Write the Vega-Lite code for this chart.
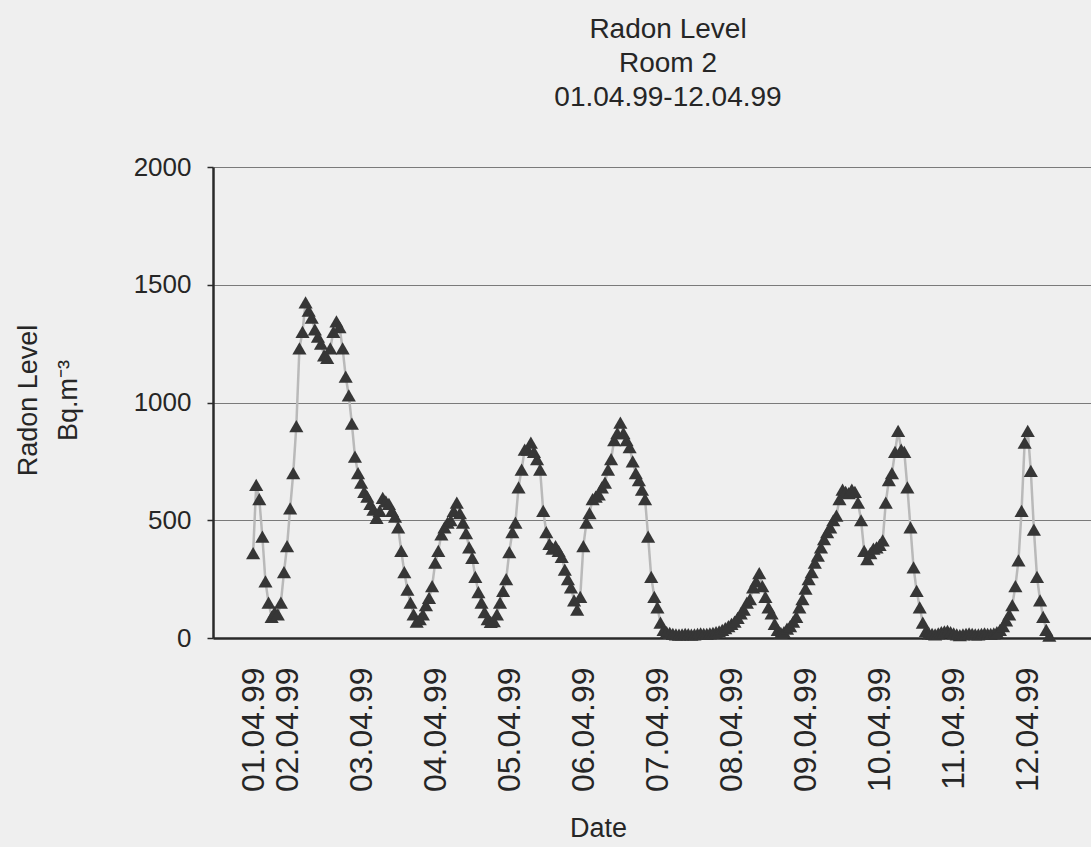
{
  "$schema": "https://vega.github.io/schema/vega-lite/v6.json",
  "autosize": {"type": "none"},
  "padding": {"left": 213, "top": 167, "right": 0, "bottom": 209},
  "width": 878,
  "height": 471,
  "background": "#efefef",
  "title": {
    "text": ["Radon Level", "Room 2", "01.04.99-12.04.99"],
    "font": "Liberation Sans",
    "fontSize": 28,
    "fontWeight": "normal",
    "lineHeight": 34,
    "color": "#262626",
    "anchor": "middle",
    "dx": 16,
    "offset": 42
  },
  "config": {
    "view": {"stroke": null, "fill": "#efefef"},
    "axis": {"labelFont": "Liberation Sans", "titleFont": "Liberation Sans", "labelColor": "#262626", "titleColor": "#262626", "titleFontWeight": "normal"}
  },
  "data": {
    "values": [
      {"t":"1999-04-01T13:00","v":360},{"t":"1999-04-01T14:00","v":650},{"t":"1999-04-01T15:00","v":590},{"t":"1999-04-01T16:00","v":430},{"t":"1999-04-01T17:00","v":240},{"t":"1999-04-01T18:00","v":150},{"t":"1999-04-01T19:00","v":90},{"t":"1999-04-01T20:00","v":110},{"t":"1999-04-01T21:00","v":100},{"t":"1999-04-01T22:00","v":150},{"t":"1999-04-01T23:00","v":280},
      {"t":"1999-04-02T00:00","v":390},{"t":"1999-04-02T01:00","v":550},{"t":"1999-04-02T02:00","v":700},{"t":"1999-04-02T03:00","v":900},{"t":"1999-04-02T04:00","v":1230},{"t":"1999-04-02T05:00","v":1300},{"t":"1999-04-02T06:00","v":1425},{"t":"1999-04-02T07:00","v":1390},{"t":"1999-04-02T08:00","v":1360},{"t":"1999-04-02T09:00","v":1310},{"t":"1999-04-02T10:00","v":1280},{"t":"1999-04-02T11:00","v":1250},{"t":"1999-04-02T12:00","v":1200},{"t":"1999-04-02T13:00","v":1190},{"t":"1999-04-02T14:00","v":1230},{"t":"1999-04-02T15:00","v":1300},{"t":"1999-04-02T16:00","v":1345},{"t":"1999-04-02T17:00","v":1320},{"t":"1999-04-02T18:00","v":1230},{"t":"1999-04-02T19:00","v":1110},{"t":"1999-04-02T20:00","v":1030},{"t":"1999-04-02T21:00","v":910},{"t":"1999-04-02T22:00","v":770},{"t":"1999-04-02T23:00","v":700},
      {"t":"1999-04-03T00:00","v":660},{"t":"1999-04-03T01:00","v":620},{"t":"1999-04-03T02:00","v":600},{"t":"1999-04-03T03:00","v":570},{"t":"1999-04-03T04:00","v":545},{"t":"1999-04-03T05:00","v":510},{"t":"1999-04-03T06:00","v":540},{"t":"1999-04-03T07:00","v":595},{"t":"1999-04-03T08:00","v":580},{"t":"1999-04-03T09:00","v":570},{"t":"1999-04-03T10:00","v":540},{"t":"1999-04-03T11:00","v":515},{"t":"1999-04-03T12:00","v":470},{"t":"1999-04-03T13:00","v":370},{"t":"1999-04-03T14:00","v":280},{"t":"1999-04-03T15:00","v":205},{"t":"1999-04-03T16:00","v":150},{"t":"1999-04-03T17:00","v":100},{"t":"1999-04-03T18:00","v":70},{"t":"1999-04-03T19:00","v":80},{"t":"1999-04-03T20:00","v":100},{"t":"1999-04-03T21:00","v":140},{"t":"1999-04-03T22:00","v":170},{"t":"1999-04-03T23:00","v":220},
      {"t":"1999-04-04T00:00","v":320},{"t":"1999-04-04T01:00","v":370},{"t":"1999-04-04T02:00","v":440},{"t":"1999-04-04T03:00","v":470},{"t":"1999-04-04T04:00","v":490},{"t":"1999-04-04T05:00","v":500},{"t":"1999-04-04T06:00","v":540},{"t":"1999-04-04T07:00","v":575},{"t":"1999-04-04T08:00","v":530},{"t":"1999-04-04T09:00","v":490},{"t":"1999-04-04T10:00","v":445},{"t":"1999-04-04T11:00","v":385},{"t":"1999-04-04T12:00","v":340},{"t":"1999-04-04T13:00","v":260},{"t":"1999-04-04T14:00","v":195},{"t":"1999-04-04T15:00","v":150},{"t":"1999-04-04T16:00","v":110},{"t":"1999-04-04T17:00","v":80},{"t":"1999-04-04T18:00","v":68},{"t":"1999-04-04T19:00","v":72},{"t":"1999-04-04T20:00","v":100},{"t":"1999-04-04T21:00","v":150},{"t":"1999-04-04T22:00","v":200},{"t":"1999-04-04T23:00","v":250},
      {"t":"1999-04-05T00:00","v":365},{"t":"1999-04-05T01:00","v":450},{"t":"1999-04-05T02:00","v":490},{"t":"1999-04-05T03:00","v":640},{"t":"1999-04-05T04:00","v":715},{"t":"1999-04-05T05:00","v":800},{"t":"1999-04-05T06:00","v":800},{"t":"1999-04-05T07:00","v":830},{"t":"1999-04-05T08:00","v":790},{"t":"1999-04-05T09:00","v":760},{"t":"1999-04-05T10:00","v":715},{"t":"1999-04-05T11:00","v":540},{"t":"1999-04-05T12:00","v":450},{"t":"1999-04-05T13:00","v":400},{"t":"1999-04-05T14:00","v":380},{"t":"1999-04-05T15:00","v":390},{"t":"1999-04-05T16:00","v":370},{"t":"1999-04-05T17:00","v":345},{"t":"1999-04-05T18:00","v":290},{"t":"1999-04-05T19:00","v":250},{"t":"1999-04-05T20:00","v":215},{"t":"1999-04-05T21:00","v":160},{"t":"1999-04-05T22:00","v":120},{"t":"1999-04-05T23:00","v":175},
      {"t":"1999-04-06T00:00","v":390},{"t":"1999-04-06T01:00","v":490},{"t":"1999-04-06T02:00","v":530},{"t":"1999-04-06T03:00","v":590},{"t":"1999-04-06T04:00","v":600},{"t":"1999-04-06T05:00","v":610},{"t":"1999-04-06T06:00","v":640},{"t":"1999-04-06T07:00","v":660},{"t":"1999-04-06T08:00","v":715},{"t":"1999-04-06T09:00","v":760},{"t":"1999-04-06T10:00","v":840},{"t":"1999-04-06T11:00","v":870},{"t":"1999-04-06T12:00","v":915},{"t":"1999-04-06T13:00","v":870},{"t":"1999-04-06T14:00","v":840},{"t":"1999-04-06T15:00","v":810},{"t":"1999-04-06T16:00","v":750},{"t":"1999-04-06T17:00","v":700},{"t":"1999-04-06T18:00","v":670},{"t":"1999-04-06T19:00","v":630},{"t":"1999-04-06T20:00","v":590},{"t":"1999-04-06T21:00","v":430},{"t":"1999-04-06T22:00","v":260},{"t":"1999-04-06T23:00","v":175},
      {"t":"1999-04-07T00:00","v":130},{"t":"1999-04-07T01:00","v":65},{"t":"1999-04-07T02:00","v":35},{"t":"1999-04-07T03:00","v":25},{"t":"1999-04-07T04:00","v":22},{"t":"1999-04-07T05:00","v":18},{"t":"1999-04-07T06:00","v":15},{"t":"1999-04-07T07:00","v":14},{"t":"1999-04-07T08:00","v":15},{"t":"1999-04-07T09:00","v":17},{"t":"1999-04-07T10:00","v":16},{"t":"1999-04-07T11:00","v":14},{"t":"1999-04-07T12:00","v":15},{"t":"1999-04-07T13:00","v":18},{"t":"1999-04-07T14:00","v":20},{"t":"1999-04-07T15:00","v":18},{"t":"1999-04-07T16:00","v":17},{"t":"1999-04-07T17:00","v":20},{"t":"1999-04-07T18:00","v":22},{"t":"1999-04-07T19:00","v":25},{"t":"1999-04-07T20:00","v":28},{"t":"1999-04-07T21:00","v":35},{"t":"1999-04-07T22:00","v":42},{"t":"1999-04-07T23:00","v":50},
      {"t":"1999-04-08T00:00","v":60},{"t":"1999-04-08T01:00","v":70},{"t":"1999-04-08T02:00","v":85},{"t":"1999-04-08T03:00","v":105},{"t":"1999-04-08T04:00","v":120},{"t":"1999-04-08T05:00","v":150},{"t":"1999-04-08T06:00","v":165},{"t":"1999-04-08T07:00","v":215},{"t":"1999-04-08T08:00","v":240},{"t":"1999-04-08T09:00","v":275},{"t":"1999-04-08T10:00","v":220},{"t":"1999-04-08T11:00","v":175},{"t":"1999-04-08T12:00","v":130},{"t":"1999-04-08T13:00","v":105},{"t":"1999-04-08T14:00","v":60},{"t":"1999-04-08T15:00","v":35},{"t":"1999-04-08T16:00","v":22},{"t":"1999-04-08T17:00","v":25},{"t":"1999-04-08T18:00","v":40},{"t":"1999-04-08T19:00","v":50},{"t":"1999-04-08T20:00","v":70},{"t":"1999-04-08T21:00","v":90},{"t":"1999-04-08T22:00","v":130},{"t":"1999-04-08T23:00","v":165},
      {"t":"1999-04-09T00:00","v":210},{"t":"1999-04-09T01:00","v":250},{"t":"1999-04-09T02:00","v":280},{"t":"1999-04-09T03:00","v":320},{"t":"1999-04-09T04:00","v":350},{"t":"1999-04-09T05:00","v":385},{"t":"1999-04-09T06:00","v":420},{"t":"1999-04-09T07:00","v":450},{"t":"1999-04-09T08:00","v":470},{"t":"1999-04-09T09:00","v":500},{"t":"1999-04-09T10:00","v":520},{"t":"1999-04-09T11:00","v":590},{"t":"1999-04-09T12:00","v":630},{"t":"1999-04-09T13:00","v":620},{"t":"1999-04-09T14:00","v":615},{"t":"1999-04-09T15:00","v":630},{"t":"1999-04-09T16:00","v":620},{"t":"1999-04-09T17:00","v":575},{"t":"1999-04-09T18:00","v":500},{"t":"1999-04-09T19:00","v":370},{"t":"1999-04-09T20:00","v":335},{"t":"1999-04-09T21:00","v":360},{"t":"1999-04-09T22:00","v":380},{"t":"1999-04-09T23:00","v":385},
      {"t":"1999-04-10T00:00","v":395},{"t":"1999-04-10T01:00","v":415},{"t":"1999-04-10T02:00","v":575},{"t":"1999-04-10T03:00","v":670},{"t":"1999-04-10T04:00","v":700},{"t":"1999-04-10T05:00","v":790},{"t":"1999-04-10T06:00","v":880},{"t":"1999-04-10T07:00","v":800},{"t":"1999-04-10T08:00","v":790},{"t":"1999-04-10T09:00","v":640},{"t":"1999-04-10T10:00","v":470},{"t":"1999-04-10T11:00","v":300},{"t":"1999-04-10T12:00","v":200},{"t":"1999-04-10T13:00","v":130},{"t":"1999-04-10T14:00","v":65},{"t":"1999-04-10T15:00","v":30},{"t":"1999-04-10T16:00","v":20},{"t":"1999-04-10T17:00","v":18},{"t":"1999-04-10T18:00","v":15},{"t":"1999-04-10T19:00","v":20},{"t":"1999-04-10T20:00","v":25},{"t":"1999-04-10T21:00","v":28},{"t":"1999-04-10T22:00","v":30},{"t":"1999-04-10T23:00","v":25},
      {"t":"1999-04-11T00:00","v":20},{"t":"1999-04-11T01:00","v":15},{"t":"1999-04-11T02:00","v":12},{"t":"1999-04-11T03:00","v":15},{"t":"1999-04-11T04:00","v":18},{"t":"1999-04-11T05:00","v":20},{"t":"1999-04-11T06:00","v":18},{"t":"1999-04-11T07:00","v":15},{"t":"1999-04-11T08:00","v":15},{"t":"1999-04-11T09:00","v":18},{"t":"1999-04-11T10:00","v":20},{"t":"1999-04-11T11:00","v":18},{"t":"1999-04-11T12:00","v":18},{"t":"1999-04-11T13:00","v":20},{"t":"1999-04-11T14:00","v":25},{"t":"1999-04-11T15:00","v":35},{"t":"1999-04-11T16:00","v":50},{"t":"1999-04-11T17:00","v":75},{"t":"1999-04-11T18:00","v":100},{"t":"1999-04-11T19:00","v":140},{"t":"1999-04-11T20:00","v":220},{"t":"1999-04-11T21:00","v":330},{"t":"1999-04-11T22:00","v":540},{"t":"1999-04-11T23:00","v":830},
      {"t":"1999-04-12T00:00","v":880},{"t":"1999-04-12T01:00","v":710},{"t":"1999-04-12T02:00","v":460},{"t":"1999-04-12T03:00","v":260},{"t":"1999-04-12T04:00","v":160},{"t":"1999-04-12T05:00","v":90},{"t":"1999-04-12T06:00","v":35},{"t":"1999-04-12T07:00","v":10}
    ]
  },
  "encoding": {
    "x": {
      "field": "t",
      "type": "temporal",
      "scale": {"domain": [{"year": 1999, "month": 4, "date": 1}, {"year": 1999, "month": 4, "date": 12, "hours": 20, "minutes": 30}]},
      "axis": {
        "title": "Date",
        "values": [
          {"year": 1999, "month": 4, "date": 1, "hours": 13},
          {"year": 1999, "month": 4, "date": 2},
          {"year": 1999, "month": 4, "date": 3},
          {"year": 1999, "month": 4, "date": 4},
          {"year": 1999, "month": 4, "date": 5},
          {"year": 1999, "month": 4, "date": 6},
          {"year": 1999, "month": 4, "date": 7},
          {"year": 1999, "month": 4, "date": 8},
          {"year": 1999, "month": 4, "date": 9},
          {"year": 1999, "month": 4, "date": 10},
          {"year": 1999, "month": 4, "date": 11},
          {"year": 1999, "month": 4, "date": 12}
        ],
        "format": "%d.%m.%y",
        "labelAngle": -90,
        "labelAlign": "right",
        "labelBaseline": "middle",
        "labelFontSize": 32,
        "labelPadding": 29,
        "labelOverlap": false,
        "labelFlush": false,
        "ticks": false,
        "grid": false,
        "domainColor": "#2a2a2a",
        "domainWidth": 2.5,
        "titleFontSize": 27,
        "titleX": 385,
        "titleY": 190,
        "titleBaseline": "middle"
      }
    },
    "y": {
      "field": "v",
      "type": "quantitative",
      "scale": {"domain": [0, 2000], "nice": false},
      "axis": {
        "title": ["\u00a0\u00a0\u00a0\u00a0\u00a0Radon Level", "Bq.m⁻³"],
        "values": [0, 500, 1000, 1500, 2000],
        "format": "d",
        "labelFontSize": 26,
        "labelPadding": 16,
        "tickSize": 6,
        "tickColor": "#2a2a2a",
        "tickWidth": 1.5,
        "grid": true,
        "gridColor": "#7a7a7a",
        "gridWidth": 1.2,
        "domainColor": "#2a2a2a",
        "domainWidth": 2.5,
        "titleFontSize": 27,
        "titleAngle": -90,
        "titleAlign": "center",
        "titleBaseline": "top",
        "titleLineHeight": 40,
        "titleX": -198,
        "titleY": 233
      }
    }
  },
  "layer": [
    {"mark": {"type": "line", "color": "#b9b9b9", "strokeWidth": 2.5}},
    {"mark": {"type": "point", "shape": "triangle-up", "filled": true, "color": "#363636", "opacity": 1, "size": 200}}
  ]
}
